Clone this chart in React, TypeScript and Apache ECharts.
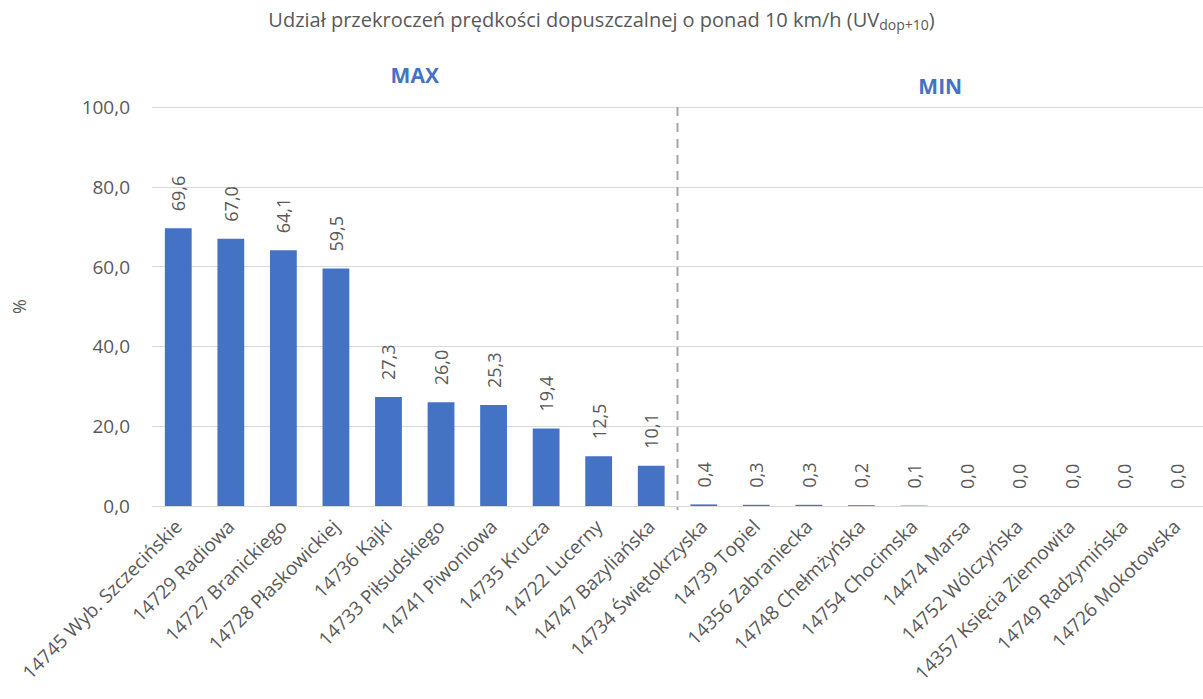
import React, { useEffect, useRef } from 'react';
import * as echarts from 'echarts';

const categories = [
  '14745 Wyb. Szczecińskie',
  '14729 Radiowa',
  '14727 Branickiego',
  '14728 Płaskowickiej',
  '14736 Kajki',
  '14733 Piłsudskiego',
  '14741 Piwoniowa',
  '14735 Krucza',
  '14722 Lucerny',
  '14747 Bazyliańska',
  '14734 Świętokrzyska',
  '14739 Topiel',
  '14356 Zabraniecka',
  '14748 Chełmżyńska',
  '14754 Chocimska',
  '14474 Marsa',
  '14752 Wólczyńska',
  '14357 Księcia Ziemowita',
  '14749 Radzymińska',
  '14726 Mokotowska',
];
const values = [69.6, 67.0, 64.1, 59.5, 27.3, 26.0, 25.3, 19.4, 12.5, 10.1, 0.4, 0.3, 0.3, 0.2, 0.1, 0.0, 0.0, 0.0, 0.0, 0.0];
const yMin = 0;
const yMax = 100;
const yInterval = 20;
const groupNames = ['MAX', 'MIN'];
const groupRanges = [[0, 9], [10, 19]];

const fmt = (v: number) => v.toFixed(1).replace('.', ',');
const FONT = '"Open Sans", "Noto Sans", sans-serif';
const GREY = '#595959';

export default function App() {
  const ref = useRef<HTMLDivElement>(null);
  useEffect(() => {
    document.body.style.margin = '0';
    if (!ref.current) return;
    const chart = echarts.init(ref.current, null, { renderer: 'svg' });
    chart.setOption({
      animation: false,
      textStyle: { fontFamily: FONT },
      title: {
        text: 'Udział przekroczeń prędkości dopuszczalnej o ponad 10 km/h (UV{sub|dop+10})',
        left: 'center',
        top: 2,
        textStyle: {
          fontFamily: FONT,
          fontSize: 20,
          fontWeight: 'normal',
          color: GREY,
          lineHeight: 24,
          rich: {
            sub: { fontFamily: FONT, fontSize: 14, color: GREY, lineHeight: 10, verticalAlign: 'bottom' },
          },
        },
      },
      grid: { left: 152, right: 0, top: 107, bottom: 193, containLabel: false },
      xAxis: {
        type: 'category',
        data: categories,
        axisTick: { show: false },
        axisLine: { lineStyle: { color: '#D9D9D9', width: 1 } },
        axisLabel: { rotate: 45, interval: 0, fontSize: 19, color: GREY, margin: 17, fontFamily: FONT },
      },
      yAxis: {
        type: 'value',
        min: yMin,
        max: yMax,
        interval: yInterval,
        name: '%',
        nameLocation: 'middle',
        nameRotate: 90,
        nameGap: 124,
        nameTextStyle: { fontSize: 18, color: GREY, fontFamily: FONT },
        axisLabel: { formatter: (v: number) => fmt(v), fontSize: 19, color: GREY, margin: 22, fontFamily: FONT },
        axisLine: { show: false },
        axisTick: { show: false },
        splitLine: { lineStyle: { color: '#D9D9D9', width: 1 } },
      },
      series: [
        {
          type: 'bar',
          data: values,
          barWidth: '51%',
          itemStyle: { color: '#4472C4' },
          label: {
            show: true,
            position: 'top',
            rotate: 90,
            align: 'left',
            verticalAlign: 'middle',
            distance: 17,
            fontSize: 18,
            color: GREY,
            fontFamily: FONT,
            formatter: (p: any) => fmt(p.value),
          },
        },
      ],
    });

    const px = (i: number) => chart.convertToPixel({ xAxisIndex: 0 }, categories[i]) as number;
    const py = (v: number) => chart.convertToPixel({ yAxisIndex: 0 }, v) as number;
    const splitX = (px(groupRanges[0][1]) + px(groupRanges[1][0])) / 2;
    const groupYs = [75, 86];
    chart.setOption({
      graphic: [
        {
          type: 'line',
          shape: { x1: splitX, y1: py(yMax), x2: splitX, y2: py(yMin) + 4 },
          style: { stroke: '#A6A6A6', lineWidth: 2, lineDash: [9, 7] },
          z: 10,
        },
        ...groupNames.map((name, gi) => ({
          type: 'text',
          x: (px(groupRanges[gi][0]) + px(groupRanges[gi][1])) / 2,
          y: groupYs[gi],
          style: {
            text: name,
            fill: '#4472C4',
            font: `bold 21px ${FONT}`,
            textAlign: 'center',
            textVerticalAlign: 'middle',
          },
        })),
      ],
    });

    return () => chart.dispose();
  }, []);
  return <div ref={ref} style={{ width: 1203, height: 699 }} />;
}
